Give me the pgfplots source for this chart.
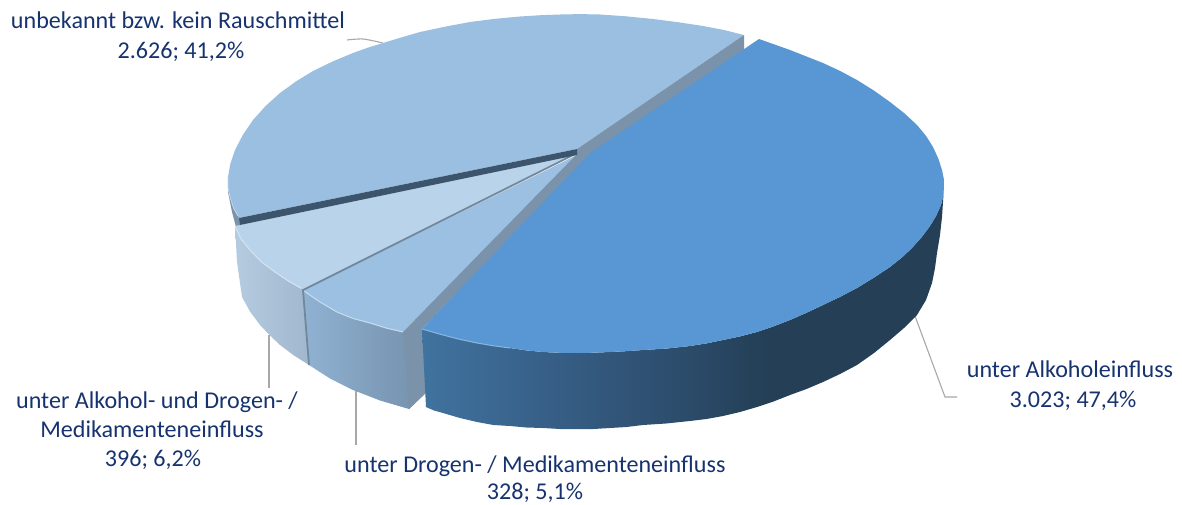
\documentclass[border=0pt]{standalone}
\usepackage{fontspec}
\setmainfont{Carlito}
\usepackage{pgfplots}
\pgfplotsset{compat=1.18}

\definecolor{txt}{HTML}{17336F}
\definecolor{lead}{HTML}{A8A8A8}
\definecolor{alk}{HTML}{5897D3}
\definecolor{unb}{HTML}{9ABFE1}
\definecolor{mix}{HTML}{B8D3EA}
\definecolor{dro}{HTML}{9BC0E2}
\definecolor{wall}{HTML}{7A92AA}
\definecolor{seam}{HTML}{71879C}
\definecolor{dwall}{HTML}{3C556C}
\definecolor{aA}{HTML}{40739F}
\definecolor{aB}{HTML}{375F87}
\definecolor{aC}{HTML}{2C4C6B}
\definecolor{aD}{HTML}{243F56}
\definecolor{dA}{HTML}{90B2D2}
\definecolor{dB}{HTML}{7490AC}
\definecolor{mA}{HTML}{B4CBE0}
\definecolor{mB}{HTML}{A0B7CE}
\pgfdeclarehorizontalshading{alkwall}{100bp}{color(0bp)=(aA);color(25bp)=(aA);color(37bp)=(aB);color(50bp)=(aC);color(58bp)=(aD);color(100bp)=(aD)}
\tikzset{lab/.style={text=txt, anchor=base, inner sep=0pt, font=\fontsize{24.1}{28}\selectfont}}

\begin{document}
\begin{tikzpicture}
\useasboundingbox (0,0) rectangle (1182pt,504pt);
\begin{axis}[
  scale only axis, width=1182pt, height=504pt,
  xmin=0, xmax=1182, ymin=0, ymax=504,
  y dir=reverse, hide axis, clip=false,
  every axis plot/.append style={no markers, forget plot},
]
% leader lines
\addplot[lead, line width=1.1pt, smooth] coordinates {(347,40)(363,39)(383,43)};
\addplot[lead, line width=1.1pt] coordinates {(915,316)(945,397)(957,397)};
\addplot[lead, line width=1.1pt] coordinates {(269,335)(269,388)};
\addplot[lead, line width=1.1pt] coordinates {(356,390)(356,445)};

% far left rim of the unknown slice
\addplot[draw=none, fill=wall] coordinates {(228,177)(230,197)(239,216)(241,226)(236,227)(232,212)(228,192)} -- cycle;

% unknown, top face
\addplot[draw=none, fill=unb] coordinates {
(744,35)(724,30)(703,26)(678,22.2)(653,19)(626,16.3)(600,14.5)(580,14.1)(560,14.5)(540.6,15.2)(520,16.5)(495,18.8)
(470,22)(445,26.7)(420,32)(401,37.5)(383,43)(368,47.6)(353,53)(333,61.3)(313,71)(296,81.4)(280,93)(265.6,106)
(253,120)(242.8,135)(235,150)(230.3,164)(228,177)(228,187.4)(230,197)(233.5,208)(239,218)(577,149)} -- cycle;
\addplot[unb!60!white, line width=.8pt] coordinates {(228,177)(228,187.4)(230,197)(233.5,208)(238,216)};

% wall right of the unknown slice
\addplot[draw=none, fill=wall] coordinates {(577,149)(744,35)(744,52)(590,156)(577,168)} -- cycle;

% mixed slice: side, top
\addplot[draw=none, left color=mA, right color=mB] coordinates {
(235,226)(241,239)(250,250)(261.5,262)(275,272)(289,281.5)(303,290)(309,365)(294,355.5)(280,345)(270,335.5)(260,325)(250,311.5)(242,297)(237,262)} -- cycle;
\addplot[draw=none, fill=mix] coordinates {(577,152)(235,226)(241,239)(250,250)(261.5,262)(275,272)(289,281.5)(303,290)} -- cycle;
\addplot[white!40!mix, line width=1pt] coordinates {(235,226)(241,239)(250,250)(261.5,262)(275,272)(289,281.5)(301,288)};

% drogen slice: side, top, wall
\addplot[draw=none, left color=dA, right color=dB] coordinates {
(303,290)(320,302)(337,312)(353,318.5)(370,323)(386,328)(403,332)(425,340)(425,393)(409,409)(380,400.5)(353,390)(330,378.5)(309,365)} -- cycle;
\addplot[draw=none, fill=dro] coordinates {(577,155)(303,290)(320,302)(337,312)(353,318.5)(370,323)(386,328)(403,332)} -- cycle;
\addplot[draw=none, fill=wall] coordinates {(577,154)(403,332)(409,409)(426,393)(422,329)(590,155)} -- cycle;
\addplot[white!45!dro, line width=1pt] coordinates {(304,291)(320,302)(337,312)(353,318.5)(370,323)(386,328)(403,332)};
\addplot[seam, line width=1.8pt] coordinates {(577,153)(303,290)(309,365)};

% dark band under the unknown slice
\addplot[draw=none, fill=dwall] coordinates {(577,149)(239,218)(240,225)(577,155)} -- cycle;

% alcohol: side, top
\addplot[draw=none, shading=alkwall] coordinates {
(422,329)(432.5,332)(443,335)(460,339.4)(477,343)(493.5,345.8)(510,348)(526.5,350.4)(543,352)(560,352.8)(577,353)(593.5,352.7)
(610,352)(626,351.2)(643,350)(666,348.6)(690,346)(706.5,343.4)(723,340)(740,336.4)(757,332)(773.5,326.4)(790,320)(806.5,312.8)
(823,305)(840,296.9)(857,288)(874,277.6)(890,267)(901.8,257.6)(912,248)(921.7,237.1)(930,226)(936.4,215.3)(941,205)(943.2,195.8)(944,187)
(942.8,205)(942,217)(940,235)(937,253)(935,268)(932,283)(926,300)(917,315)(904,328)(890,340)(874,353)(857,365)(840,374)(823,382)
(806.5,389)(790,395)(773.5,401.5)(757,407)(740,412)(723,416)(706.5,419)(690,421)(666,423.5)(643,425)(626.5,427)(610,428)(593.5,429)
(577,429)(560,429)(543,428)(526.5,427.5)(510,426)(493.5,425)(477,422)(460,418)(443,413)(434,410.5)(426,407)} -- cycle;
\addplot[draw=none, fill=alk] coordinates {
(759,39)(774,44.3)(790,50)(806,56.3)(823,63)(840,70.9)(857,80)(874,90.6)(890,102)(904.6,113.5)(917,125)(926.1,136)(933,147)(938.4,158.8)
(942,170)(943.8,178.8)(944,187)(943.2,195.8)(941,205)(936.4,215.3)(930,226)(921.7,237.1)(912,248)(901.8,257.6)(890,267)(874,277.6)
(857,288)(840,296.9)(823,305)(806.5,312.8)(790,320)(773.5,326.4)(757,332)(740,336.4)(723,340)(706.5,343.4)(690,346)(666,348.6)
(643,350)(626,351.2)(610,352)(593.5,352.7)(577,353)(560,352.8)(543,352)(526.5,350.4)(510,348)(493.5,345.8)(477,343)(460,339.4)
(443,335)(432.5,332)(422,329)(590,153)} -- cycle;
\addplot[white!30!alk, line width=1pt] coordinates {(422,329)(432.5,332)(443,335)(460,339.4)(477,343)(493.5,345.8)(510,348)};

% labels
\node[lab] at (axis cs:178,28) {unbekannt bzw. kein Rauschmittel};
\node[lab] at (axis cs:181,58) {2.626; 41,2\%};
\node[lab] at (axis cs:1070,377) {unter Alkoholeinfluss};
\node[lab] at (axis cs:1073,407) {3.023; 47,4\%};
\node[lab] at (axis cs:157,408) {unter Alkohol- und Drogen- /};
\node[lab] at (axis cs:152,437) {Medikamenteneinfluss};
\node[lab] at (axis cs:153,466) {396; 6,2\%};
\node[lab] at (axis cs:535,472) {unter Drogen- / Medikamenteneinfluss};
\node[lab] at (axis cs:535,499.5) {328; 5,1\%};
\end{axis}
\end{tikzpicture}
\end{document}
